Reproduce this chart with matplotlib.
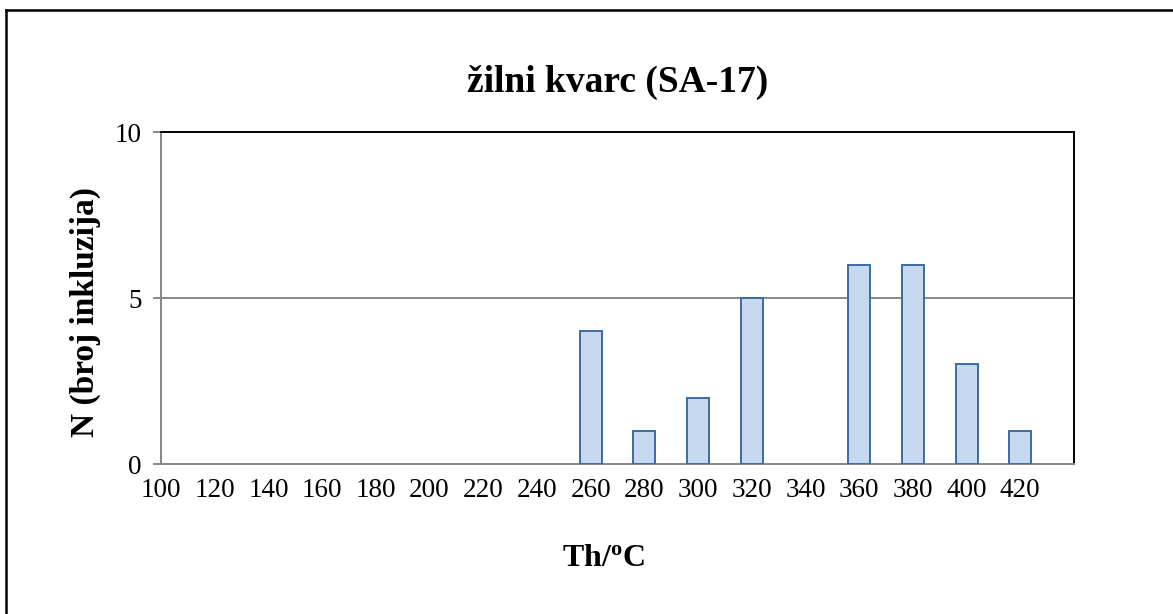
import matplotlib
matplotlib.use("Agg")
import matplotlib.pyplot as plt
from matplotlib.lines import Line2D

plt.rcParams['font.family'] = ['Liberation Serif', 'DejaVu Serif']
plt.rcParams['mathtext.fontset'] = 'custom'
plt.rcParams['mathtext.rm'] = 'Liberation Serif'
plt.rcParams['mathtext.bf'] = 'Liberation Serif:bold'

# homogenization temperature classes and number of inclusions
temps = [100, 120, 140, 160, 180, 200, 220, 240, 260, 280, 300, 320, 340, 360, 380, 400, 420]
counts = [0, 0, 0, 0, 0, 0, 0, 0, 4, 1, 2, 5, 0, 6, 6, 3, 1]
yticks = [0, 5, 10]

fig = plt.figure(figsize=(11.73, 6.14), dpi=100)
ax = fig.add_axes([161/1173, 1-464/614, (1074-161)/1173, (464-132)/614])

pos = list(range(len(temps)))
# empty classes get no outline
lws = [1.4 if c > 0 else 0 for c in counts]
ax.bar(pos, counts, width=0.41, color='#C6D9F1', edgecolor='#3E6AA4', linewidth=lws, zorder=3)

ax.set_xlim(0, 17)
ax.set_ylim(0, 10)
ax.set_xticks(pos)
ax.set_xticklabels([str(t) for t in temps])
ax.set_yticks(yticks)
ax.tick_params(axis='x', length=0, pad=10, labelsize=19.5)
ax.tick_params(axis='y', length=6, width=1.4, color='#868686', pad=8, labelsize=19.5)

ax.axhline(5, color='#868686', lw=1.4, zorder=1)
for s in ['left', 'bottom']:
    ax.spines[s].set_color('#868686')
    ax.spines[s].set_linewidth(1.4)
for s in ['top', 'right']:
    ax.spines[s].set_color('black')
    ax.spines[s].set_linewidth(1.4)

fig.text(618/1173, 1-82/614, 'žilni kvarc (SA-17)', ha='center', va='center',
         fontsize=27, fontweight='bold')
fig.text(85/1173, 1-312/614, 'N (broj inkluzija)', ha='center', va='center',
         rotation=90, fontsize=24, fontweight='bold')
fig.text(603/1173, 1-558/614, r'Th/$\mathbf{^o}$C', ha='center', va='center',
         fontsize=23, fontweight='bold')

# chart frame
fig.add_artist(Line2D([5.5/1173, 5.5/1173], [0, 1-9.5/614], color='black', lw=1.8,
                      transform=fig.transFigure))
fig.add_artist(Line2D([5.5/1173, 1], [1-9.5/614, 1-9.5/614], color='black', lw=1.8,
                      transform=fig.transFigure))

fig.savefig('out.png', dpi=100, facecolor='white')
